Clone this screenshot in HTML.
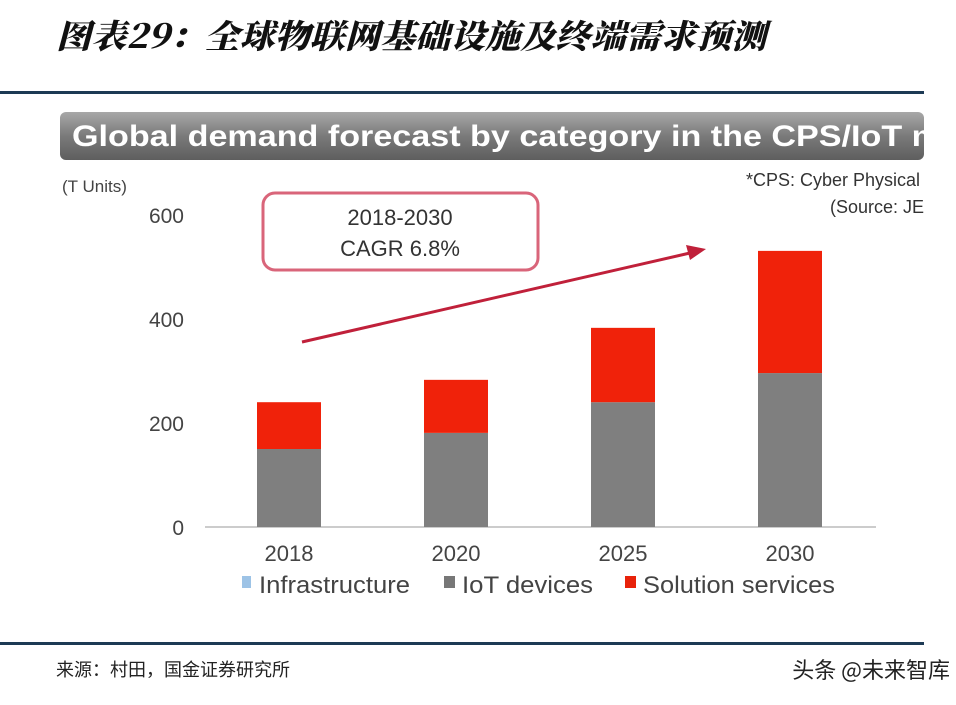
<!DOCTYPE html>
<html><head><meta charset="utf-8"><style>
body{margin:0;width:956px;height:700px;background:#fff;overflow:hidden;font-family:"Liberation Sans",sans-serif}
</style></head><body>
<svg width="956" height="700" xmlns="http://www.w3.org/2000/svg">
<defs><linearGradient id="hg" x1="0" y1="0" x2="0" y2="1"><stop offset="0" stop-color="#a8a8a8"/><stop offset="0.5" stop-color="#7a7a7a"/><stop offset="1" stop-color="#5e5e5e"/></linearGradient>
<clipPath id="hc"><rect x="60" y="100" width="864" height="70"/></clipPath></defs>
<text x="56" y="48" font-family="'Noto Serif CJK SC','Noto Sans CJK SC',sans-serif" font-weight="900" font-style="italic" font-size="33" fill="#111" textLength="710" lengthAdjust="spacingAndGlyphs">图表29：全球物联网基础设施及终端需求预测</text>
<rect x="0" y="91" width="924" height="3" fill="#1d3a54"/>
<rect x="60" y="112" width="864" height="48" rx="6" fill="url(#hg)"/>
<g clip-path="url(#hc)"><text x="72" y="146" font-size="30" font-weight="bold" fill="#fff" textLength="870" lengthAdjust="spacingAndGlyphs">Global demand forecast by category in the CPS/IoT m</text></g>
<text x="62" y="192" font-size="17" fill="#444">(T Units)</text>
<text x="920" y="186" font-size="18" fill="#333" text-anchor="end">*CPS: Cyber Physical</text>
<text x="924" y="213" font-size="18" fill="#333" text-anchor="end">(Source: JE</text>
<rect x="263" y="193" width="275" height="77" rx="12" fill="#fff" stroke="#d9657a" stroke-width="3"/>
<text x="400" y="225" font-size="22" fill="#333" text-anchor="middle">2018-2030</text>
<text x="400" y="256" font-size="22" fill="#333" text-anchor="middle">CAGR 6.8%</text>
<line x1="302" y1="342" x2="690" y2="253" stroke="#c0203a" stroke-width="3"/>
<polygon points="706,249 686,245 690,260" fill="#c0203a"/>
<g id="plot"></g>
<g>
<rect x="242" y="576" width="9" height="12" fill="#9dc3e6"/><text x="259" y="593" font-size="24" fill="#444" textLength="151" lengthAdjust="spacingAndGlyphs">Infrastructure</text>
<rect x="444" y="576" width="11" height="12" fill="#777"/><text x="462" y="593" font-size="24" fill="#444" textLength="131" lengthAdjust="spacingAndGlyphs">IoT devices</text>
<rect x="625" y="576" width="11" height="12" fill="#e8220a"/><text x="643" y="593" font-size="24" fill="#444" textLength="192" lengthAdjust="spacingAndGlyphs">Solution services</text>
</g>
<rect x="0" y="642" width="924" height="3" fill="#1d3a54"/>
<text x="56" y="676" font-family="'Noto Sans CJK SC',sans-serif" font-size="18" fill="#222">来源：村田，国金证券研究所</text>
<text x="950" y="678" font-family="'Noto Sans CJK SC',sans-serif" font-size="22" fill="#222" text-anchor="end">头条 @未来智库</text>
</svg>
<script>
const categories=["2018","2020","2025","2030"];
const iotDevices=[150,181,240,296];
const solutionServices=[90,102,143,235];
const yTicks=[0,200,400,600];
const ns="http://www.w3.org/2000/svg";
const g=document.getElementById('plot');
const y=v=>527-v*0.52;
const x=i=>289+i*167;
function el(t,a){const e=document.createElementNS(ns,t);for(const k in a)e.setAttribute(k,a[k]);g.appendChild(e);return e;}
const base=el('line',{x1:205,x2:876,y1:527,y2:527,stroke:'#ccc','stroke-width':2});


yTicks.forEach(v=>{const t=el('text',{x:184,y:y(v)+8,'font-size':21,fill:'#444','text-anchor':'end'});t.textContent=v;

});
categories.forEach((c,i)=>{
const b=el('rect',{x:x(i)-32,width:64,y:y(iotDevices[i]),height:y(0)-y(iotDevices[i]),fill:'#7f7f7f'});


const top=iotDevices[i]+solutionServices[i];
const s=el('rect',{x:x(i)-32,width:64,y:y(top),height:y(iotDevices[i])-y(top),fill:'#f0220a'});


const t=el('text',{x:x(i),y:561,'font-size':22,fill:'#444','text-anchor':'middle'});t.textContent=c;


});
</script>
</body></html>
